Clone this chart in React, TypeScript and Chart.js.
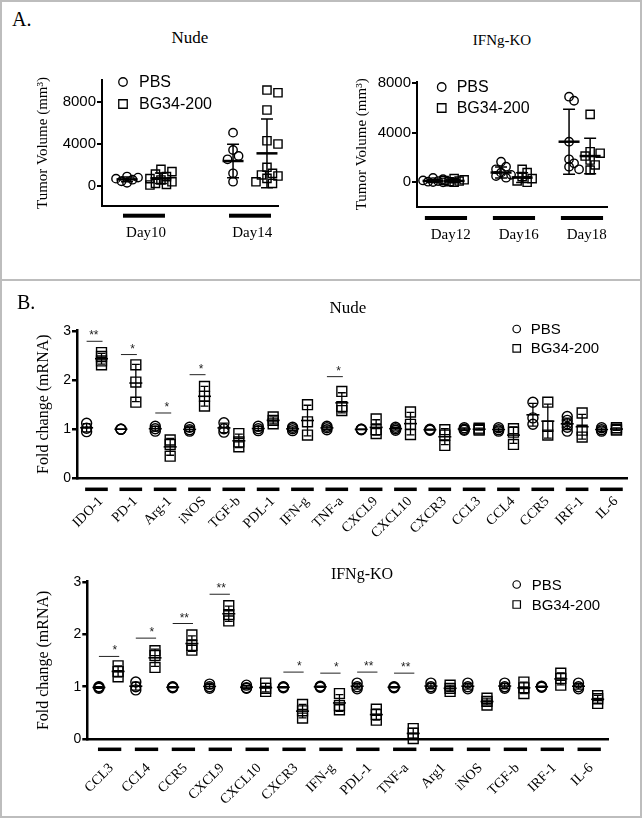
import React, { useEffect, useRef } from 'react';
import { Chart, registerables } from 'chart.js';

Chart.register(...registerables);

// ---------------- data ----------------
const seriesNames = ['PBS', 'BG34-200'];
const volumeTicks = [0, 4000, 8000];
const foldTicks = [0, 1, 2, 3];

// Panel A, Nude
const nudeDays = ['Day10', 'Day14'];
const nudeVolPBS = [
  [900, 800, 700, 600, 450, 300],
  [5080, 3430, 2860, 2540, 1210, 410],
];
const nudeVolBG = [
  [1590, 1370, 1140, 890, 700, 570, 400, 250, 150, 95],
  [9140, 8880, 7240, 4310, 4000, 1780, 1210, 1050, 950, 730, 400, 250],
];
const nudeVolPBSMean = [630, 2380];
const nudeVolPBSSd = [220, 1600];
const nudeVolBGMean = [730, 3110];
const nudeVolBGSd = [500, 3270];

// Panel A, IFNg-KO
const koDays = ['Day12', 'Day16', 'Day18'];
const koVolPBS = [
  [350, 250, 150, 100, 50, 20, 0],
  [1660, 1260, 1050, 780, 600, 510, 370],
  [6920, 6590, 3280, 1860, 1535, 1260, 1050],
];
const koVolBG = [
  [300, 200, 150, 100, 50, 0],
  [1050, 780, 460, 300, 110, 0],
  [5490, 2470, 2350, 2120, 1800, 1400, 990],
];
const koVolPBSMean = [110, 790, 3280];
const koVolPBSSd = [120, 450, 2620];
const koVolBGMean = [110, 380, 2120];
const koVolBGSd = [110, 400, 1430];

// Panel B, Nude
const nudeGenes = ['IDO-1', 'PD-1', 'Arg-1', 'iNOS', 'TGF-b', 'PDL-1', 'IFN-g', 'TNF-a', 'CXCL9', 'CXCL10', 'CXCR3', 'CCL3', 'CCL4', 'CCR5', 'IRF-1', 'IL-6'];
const nudeFoldPBS = [
  [1.12, 1.02, 0.95],
  [1.0, 1.0, 1.0],
  [1.06, 1.01, 0.96],
  [1.04, 0.99, 0.96],
  [1.13, 1.01, 0.94],
  [1.06, 1.01, 0.97],
  [1.04, 1.01, 0.97],
  [1.06, 1.03, 0.99],
  [1.0, 1.0, 0.99],
  [1.04, 1.01, 0.98],
  [1.0, 0.99, 0.98],
  [1.03, 1.0, 0.98],
  [1.03, 0.99, 0.96],
  [1.55, 1.23, 1.1],
  [1.26, 1.18, 1.11, 1.04, 0.96],
  [1.03, 0.99, 0.96],
];
const nudeFoldBG = [
  [2.56, 2.48, 2.39, 2.31],
  [2.31, 1.96, 1.55],
  [0.78, 0.69, 0.45],
  [1.87, 1.67, 1.47],
  [0.91, 0.74, 0.64],
  [1.25, 1.18, 1.11],
  [1.5, 1.15, 0.88],
  [1.77, 1.46, 1.38],
  [1.21, 0.99, 0.91],
  [1.35, 1.1, 0.89],
  [0.99, 0.88, 0.67],
  [1.02, 1.0, 0.98],
  [1.01, 0.94, 0.69],
  [1.55, 1.06, 0.88],
  [1.33, 0.98, 0.84],
  [1.03, 1.0, 0.98],
];
const nudeSigGenes = ['IDO-1', 'PD-1', 'Arg-1', 'iNOS', 'TNF-a'];
const nudeSigMarks = ['**', '*', '*', '*', '*'];
const nudeSigLevels = [2.79, 2.52, 1.33, 2.11, 2.07];

// Panel B, IFNg-KO
const koGenes = ['CCL3', 'CCL4', 'CCR5', 'CXCL9', 'CXCL10', 'CXCR3', 'IFN-g', 'PDL-1', 'TNF-a', 'Arg1', 'iNOS', 'TGF-b', 'IRF-1', 'IL-6'];
const koFoldPBS = [
  [1.0, 0.99, 0.97],
  [1.09, 1.0, 0.94],
  [1.0, 0.99, 0.98],
  [1.05, 1.0, 0.97],
  [1.03, 0.98, 0.97],
  [1.0, 0.99, 0.98],
  [1.01, 1.0, 0.99],
  [1.07, 1.0, 0.96],
  [1.0, 0.99, 0.98],
  [1.07, 1.0, 0.97],
  [1.07, 1.0, 0.96],
  [1.07, 1.0, 0.97],
  [1.01, 1.0, 0.99],
  [1.07, 1.0, 0.96],
];
const koFoldBG = [
  [1.4, 1.29, 1.19],
  [1.69, 1.6, 1.37],
  [1.99, 1.79, 1.7],
  [2.55, 2.38, 2.26],
  [1.07, 0.97, 0.91],
  [0.66, 0.54, 0.4],
  [0.87, 0.64, 0.56],
  [0.57, 0.47, 0.36],
  [0.2, 0.11, 0.01],
  [1.03, 0.97, 0.91],
  [0.78, 0.72, 0.65],
  [1.09, 0.98, 0.87],
  [1.26, 1.16, 1.03],
  [0.83, 0.77, 0.68],
];
const koSigGenes = ['CCL3', 'CCL4', 'CCR5', 'CXCL9', 'CXCR3', 'IFN-g', 'PDL-1', 'TNF-a'];
const koSigMarks = ['*', '*', '**', '**', '*', '*', '**', '**'];
const koSigLevels = [1.58, 1.93, 2.21, 2.77, 1.28, 1.26, 1.28, 1.26];

// ---------------- helpers ----------------
const SANS = '"Liberation Sans", Arial, Helvetica, sans-serif';
const SERIF = '"Liberation Serif", "Times New Roman", Times, serif';

const meanOf = (a: number[]) => a.reduce((s, v) => s + v, 0) / a.length;
const sdOf = (a: number[]) => {
  if (a.length < 2) return 0;
  const m = meanOf(a);
  return Math.sqrt(a.reduce((s, v) => s + (v - m) * (v - m), 0) / (a.length - 1));
};

const groupBarsPlugin = {
  id: 'groupBars',
  afterDraw(chart: any, _a: any, o: any) {
    if (!o || !o.count) return;
    const { ctx, chartArea } = chart;
    const xs = chart.scales.x;
    ctx.save();
    ctx.fillStyle = '#000';
    for (let i = 0; i < o.count; i++) {
      const x1 = xs.getPixelForValue(i + o.shift - o.half);
      const x2 = xs.getPixelForValue(i + o.shift + o.half);
      ctx.fillRect(x1, chartArea.bottom + o.dy - o.thick / 2, x2 - x1, o.thick);
    }
    ctx.restore();
  },
};

const errBarsPlugin = {
  id: 'errBars',
  afterDatasetsDraw(chart: any, _a: any, o: any) {
    if (!o || !o.series) return;
    const { ctx } = chart;
    const xs = chart.scales.x;
    const ys = chart.scales.y;
    ctx.save();
    ctx.strokeStyle = '#000';
    o.series.forEach((s: any) => {
      s.means.forEach((m: number, g: number) => {
        const sd = s.sds[g];
        const x = xs.getPixelForValue(g + s.offset);
        const ym = ys.getPixelForValue(m);
        const yt = ys.getPixelForValue(m + sd);
        const yb = ys.getPixelForValue(m - sd);
        ctx.lineWidth = o.lw;
        ctx.beginPath();
        ctx.moveTo(x, yt);
        ctx.lineTo(x, yb);
        ctx.moveTo(x - o.capHalf, yt);
        ctx.lineTo(x + o.capHalf, yt);
        ctx.moveTo(x - o.capHalf, yb);
        ctx.lineTo(x + o.capHalf, yb);
        ctx.stroke();
        ctx.lineWidth = o.meanLw;
        ctx.beginPath();
        ctx.moveTo(x - o.meanHalf, ym);
        ctx.lineTo(x + o.meanHalf, ym);
        ctx.stroke();
      });
    });
    ctx.restore();
  },
};

const insetLegendPlugin = {
  id: 'insetLegend',
  afterDraw(chart: any, _a: any, o: any) {
    if (!o || !o.show) return;
    const { ctx, chartArea } = chart;
    ctx.save();
    chart.data.datasets.forEach((ds: any, i: number) => {
      const x = chartArea.left + o.x;
      const y = chartArea.top + o.y + i * o.rowGap;
      ctx.lineWidth = o.lineWidth;
      ctx.strokeStyle = '#000';
      ctx.beginPath();
      if (ds.pointStyle === 'circle') ctx.arc(x, y, o.size / 2, 0, Math.PI * 2);
      else ctx.rect(x - o.size / 2, y - o.size / 2, o.size, o.size);
      ctx.stroke();
      ctx.fillStyle = '#000';
      ctx.font = `${o.fontSize}px ${SANS}`;
      ctx.textBaseline = 'middle';
      ctx.textAlign = 'left';
      ctx.fillText(ds.label, x + o.textGap, y + 1);
    });
    ctx.restore();
  },
};

const sigPlugin = {
  id: 'sig',
  afterDraw(chart: any, _a: any, o: any) {
    if (!o || !o.items || !o.items.length) return;
    const { ctx } = chart;
    const xs = chart.scales.x;
    const ys = chart.scales.y;
    ctx.save();
    ctx.strokeStyle = '#222';
    ctx.fillStyle = '#222';
    ctx.lineWidth = 1;
    ctx.font = `${o.fontSize}px ${SANS}`;
    ctx.textAlign = 'right';
    ctx.textBaseline = 'alphabetic';
    o.items.forEach((it: any) => {
      const x1 = xs.getPixelForValue(it.cat + o.from);
      const x2 = xs.getPixelForValue(it.cat + o.to);
      const y = ys.getPixelForValue(it.level);
      ctx.beginPath();
      ctx.moveTo(x1, y);
      ctx.lineTo(x2, y);
      ctx.stroke();
      ctx.fillText(it.mark, x2 - (it.mark.length > 1 ? 4 : 2), y + o.textDy);
    });
    ctx.restore();
  },
};

const swarmPlugin = {
  id: 'swarm',
  afterDatasetsUpdate(chart: any, _a: any, o: any) {
    if (!o || !o.enabled) return;
    chart.data.datasets.forEach((ds: any, di: number) => {
      const meta = chart.getDatasetMeta(di);
      const groups = new Map<number, any[]>();
      meta.data.forEach((el: any, i: number) => {
        const g = ds.data[i].g;
        if (!groups.has(g)) groups.set(g, []);
        groups.get(g)!.push(el);
      });
      groups.forEach((els) => {
        const baseX = els[0].x;
        const placed: { x: number; y: number }[] = [];
        els
          .slice()
          .sort((a, b) => a.y - b.y)
          .forEach((el) => {
            let best = baseX;
            let bestScore = -Infinity;
            for (const k of [0, 1, -1, 2, -2]) {
              const x = baseX + k * o.step;
              let minD = Infinity;
              for (const p of placed) {
                const d = Math.hypot(p.x - x, p.y - el.y);
                if (d < minD) minD = d;
              }
              if (minD >= o.minDist) {
                best = x;
                break;
              }
              if (minD > bestScore) {
                bestScore = minD;
                best = x;
              }
            }
            el.x = best;
            placed.push({ x: best, y: el.y });
          });
      });
    });
  },
};

// ---------------- chart specs (layout) ----------------
type Spec = any;

const specs: Spec[] = [
  {
    rect: { left: 0, top: 50, width: 300, height: 200 },
    area: { left: 102, top: 80, right: 278, bottom: 206 },
    xMin: -0.396, xMax: 1.264, yMin: -1905, yMax: 10095, yTicks: volumeTicks,
    cats: nudeDays, labelShift: 0.02, labelRot: 0, labelPad: 18.3, labelFont: 15,
    yTitle: 'Tumor Volume (mm³)', yTitleFont: 15, yTitlePad: 34, tickFont: 15, axisW: 2,
    pbs: nudeVolPBS, bg: nudeVolBG,
    pbsMean: nudeVolPBSMean, pbsSd: nudeVolPBSSd, bgMean: nudeVolBGMean, bgSd: nudeVolBGSd,
    pbsOff: -0.16, bgOff: 0.16,
    bar: { shift: 0, half: 0.198, dy: 9.7, thick: 4 },
    circleR: 4.2, rectR: 5.8, pointBw: 1.4,
    err: { meanHalf: 10.5, capHalf: 6, lw: 1.5, meanLw: 2.5 },
    legend: { x: 21, y: 2, rowGap: 22, size: 8.5, textGap: 16, fontSize: 16, lineWidth: 1.3 },
    swarm: { enabled: true, step: 5.5, minDist: 7 },
    sigGenes: [], sigMarks: [], sigLevels: [],
  },
  {
    rect: { left: 320, top: 50, width: 320, height: 200 },
    area: { left: 417, top: 82, right: 607, bottom: 206.7 },
    xMin: -0.426, xMax: 2.368, yMin: -1972, yMax: 8105, yTicks: volumeTicks,
    cats: koDays, labelShift: 0.07, labelRot: 0, labelPad: 19.3, labelFont: 15,
    yTitle: 'Tumor Volume (mm³)', yTitleFont: 15, yTitlePad: 32.7, tickFont: 15, axisW: 2,
    pbs: koVolPBS, bg: koVolBG,
    pbsMean: koVolPBSMean, pbsSd: koVolPBSSd, bgMean: koVolBGMean, bgSd: koVolBGSd,
    pbsOff: -0.19, bgOff: 0.12,
    bar: { shift: 0, half: 0.31, dy: 11.3, thick: 4 },
    circleR: 4.2, rectR: 5.8, pointBw: 1.4,
    err: { meanHalf: 10.5, capHalf: 6, lw: 1.5, meanLw: 2.5 },
    legend: { x: 24.7, y: 5, rowGap: 21, size: 8.5, textGap: 15, fontSize: 16, lineWidth: 1.3 },
    swarm: { enabled: true, step: 5, minDist: 6 },
    sigGenes: [], sigMarks: [], sigLevels: [],
  },
  {
    rect: { left: 0, top: 300, width: 643, height: 260 },
    area: { left: 77, top: 330, right: 632, bottom: 478.3 },
    xMin: -0.497, xMax: 15.54, yMin: 0, yMax: 3.02, yTicks: foldTicks,
    cats: nudeGenes, labelShift: 0.2, labelRot: 45, labelPad: 15, labelFont: 14,
    yTitle: 'Fold change (mRNA)', yTitleFont: 16, yTitlePad: 33.7, tickFont: 14, axisW: 2.5,
    pbs: nudeFoldPBS, bg: nudeFoldBG,
    pbsOff: -0.217, bgOff: 0.217,
    bar: { shift: 0.07, half: 0.33, dy: 11, thick: 3.5 },
    circleR: 5, rectR: 7, pointBw: 1.4,
    err: { meanHalf: 6.5, capHalf: 4, lw: 1.3, meanLw: 1.6 },
    legend: { x: 439.7, y: -1, rowGap: 19.3, size: 7.5, textGap: 14, fontSize: 15, lineWidth: 1.2 },
    swarm: { enabled: false },
    sigGenes: nudeSigGenes, sigMarks: nudeSigMarks, sigLevels: nudeSigLevels,
  },
  {
    rect: { left: 0, top: 560, width: 643, height: 258 },
    area: { left: 87.3, top: 581.7, right: 608, bottom: 739 },
    xMin: -0.575, xMax: 13.54, yMin: 0, yMax: 3.01, yTicks: foldTicks,
    cats: koGenes, labelShift: 0.08, labelRot: 45, labelPad: 21, labelFont: 14,
    yTitle: 'Fold change (mRNA)', yTitleFont: 16, yTitlePad: 33.7, tickFont: 14, axisW: 2.5,
    pbs: koFoldPBS, bg: koFoldBG,
    pbsOff: -0.26, bgOff: 0.26,
    bar: { shift: 0.03, half: 0.316, dy: 10.3, thick: 3.5 },
    circleR: 5, rectR: 7, pointBw: 1.4,
    err: { meanHalf: 6.5, capHalf: 4, lw: 1.3, meanLw: 1.6 },
    legend: { x: 429.4, y: 2.8, rowGap: 20, size: 7.5, textGap: 15, fontSize: 15, lineWidth: 1.2 },
    swarm: { enabled: false },
    sigGenes: koSigGenes, sigMarks: koSigMarks, sigLevels: koSigLevels,
  },
];

function buildChart(canvas: HTMLCanvasElement, s: Spec) {
  const pts = (vals: number[][], off: number) =>
    vals.flatMap((arr, g) => arr.map((v) => ({ x: g + off, y: v, g })));
  const pbsMean = s.pbsMean ?? s.pbs.map(meanOf);
  const pbsSd = s.pbsSd ?? s.pbs.map(sdOf);
  const bgMean = s.bgMean ?? s.bg.map(meanOf);
  const bgSd = s.bgSd ?? s.bg.map(sdOf);
  const yW = s.area.left - s.rect.left;
  const padTop = s.area.top - s.rect.top;
  const padRight = s.rect.left + s.rect.width - s.area.right;
  const xH = s.rect.top + s.rect.height - s.area.bottom;
  const sigItems = s.sigGenes.map((name: string, i: number) => ({
    cat: s.cats.indexOf(name),
    mark: s.sigMarks[i],
    level: s.sigLevels[i],
  }));

  return new Chart(canvas, {
    type: 'scatter',
    data: {
      datasets: [
        {
          label: seriesNames[0],
          data: pts(s.pbs, s.pbsOff),
          pointStyle: 'circle',
          pointRadius: s.circleR,
          pointBorderWidth: s.pointBw,
          pointBorderColor: '#000',
          pointBackgroundColor: 'rgba(0,0,0,0)',
          showLine: false,
          clip: false,
        },
        {
          label: seriesNames[1],
          data: pts(s.bg, s.bgOff),
          pointStyle: 'rect',
          pointRadius: s.rectR,
          pointBorderWidth: s.pointBw,
          pointBorderColor: '#000',
          pointBackgroundColor: 'rgba(0,0,0,0)',
          showLine: false,
          clip: false,
        },
      ],
    } as any,
    plugins: [swarmPlugin, groupBarsPlugin, errBarsPlugin, insetLegendPlugin, sigPlugin] as any,
    options: {
      responsive: false,
      maintainAspectRatio: false,
      animation: false,
      events: [],
      layout: { padding: { left: 0, top: padTop, right: padRight, bottom: 0 } },
      plugins: {
        legend: { display: false },
        tooltip: { enabled: false },
        title: { display: false },
        swarm: s.swarm,
        groupBars: { count: s.cats.length, ...s.bar },
        errBars: {
          ...s.err,
          series: [
            { offset: s.pbsOff, means: pbsMean, sds: pbsSd },
            { offset: s.bgOff, means: bgMean, sds: bgSd },
          ],
        },
        insetLegend: { show: true, ...s.legend },
        sig: { items: sigItems, from: s.pbsOff, to: s.bgOff + 0.03, fontSize: 12, textDy: -2 },
      } as any,
      scales: {
        x: {
          type: 'linear',
          min: s.xMin,
          max: s.xMax,
          afterFit: (sc: any) => {
            sc.height = xH;
          },
          afterBuildTicks: (sc: any) => {
            sc.ticks = s.cats.map((_: string, i: number) => ({ value: i + s.labelShift }));
          },
          grid: { display: false, drawTicks: false },
          border: { display: true, color: '#000', width: s.axisW },
          ticks: {
            autoSkip: false,
            maxRotation: s.labelRot,
            minRotation: s.labelRot,
            padding: s.labelPad,
            color: '#000',
            font: { family: SERIF, size: s.labelFont },
            callback: (_v: any, i: number) => s.cats[i],
          },
        },
        y: {
          type: 'linear',
          min: s.yMin,
          max: s.yMax,
          afterFit: (sc: any) => {
            sc.width = yW;
          },
          afterBuildTicks: (sc: any) => {
            sc.ticks = s.yTicks.map((v: number) => ({ value: v }));
          },
          grid: {
            drawOnChartArea: false,
            drawTicks: true,
            tickLength: 5,
            lineWidth: s.axisW,
            color: '#000',
          },
          border: { display: true, color: '#000', width: s.axisW },
          ticks: {
            padding: 1,
            color: '#000',
            font: { family: SANS, size: s.tickFont },
            callback: (v: any) => String(v),
          },
          title: {
            display: true,
            text: s.yTitle,
            color: '#000',
            font: { family: SERIF, size: s.yTitleFont },
            padding: { top: s.yTitlePad, bottom: 0 },
          },
        },
      } as any,
    },
  });
}

// ---------------- component ----------------
const texts = [
  { t: 'A.', x: 12, y: 19, size: 20, anchor: 'left' },
  { t: 'Nude', x: 190, y: 37, size: 17, anchor: 'center' },
  { t: 'IFNg-KO', x: 502, y: 40, size: 15, anchor: 'center' },
  { t: 'B.', x: 17, y: 302, size: 20, anchor: 'left' },
  { t: 'Nude', x: 348, y: 307, size: 17, anchor: 'center' },
  { t: 'IFNg-KO', x: 362, y: 574, size: 16, anchor: 'center' },
];

export default function App() {
  const canvases = useRef<(HTMLCanvasElement | null)[]>([]);

  useEffect(() => {
    const charts = specs.map((s, i) => buildChart(canvases.current[i]!, s));
    return () => charts.forEach((c) => c.destroy());
  }, []);

  return (
    <div
      style={{
        position: 'absolute',
        left: 0,
        top: 0,
        width: 643,
        height: 818,
        background: '#fff',
        overflow: 'hidden',
      }}
    >
      <div
        style={{
          position: 'absolute',
          left: 0,
          top: 0,
          width: 642,
          height: 818,
          border: '2px solid #bdbdbd',
          boxSizing: 'border-box',
        }}
      />
      <div style={{ position: 'absolute', left: 0, top: 279, width: 642, height: 2, background: '#bdbdbd' }} />
      {specs.map((s, i) => (
        <canvas
          key={i}
          ref={(el) => {
            canvases.current[i] = el;
          }}
          width={s.rect.width}
          height={s.rect.height}
          style={{
            position: 'absolute',
            left: s.rect.left,
            top: s.rect.top,
            width: s.rect.width,
            height: s.rect.height,
          }}
        />
      ))}
      {texts.map((t, i) => (
        <div
          key={i}
          style={{
            position: 'absolute',
            left: t.x,
            top: t.y,
            transform: t.anchor === 'center' ? 'translate(-50%, -50%)' : 'translate(0, -50%)',
            fontFamily: SERIF,
            fontSize: t.size,
            lineHeight: 1,
            whiteSpace: 'nowrap',
            color: '#000',
          }}
        >
          {t.t}
        </div>
      ))}
    </div>
  );
}
